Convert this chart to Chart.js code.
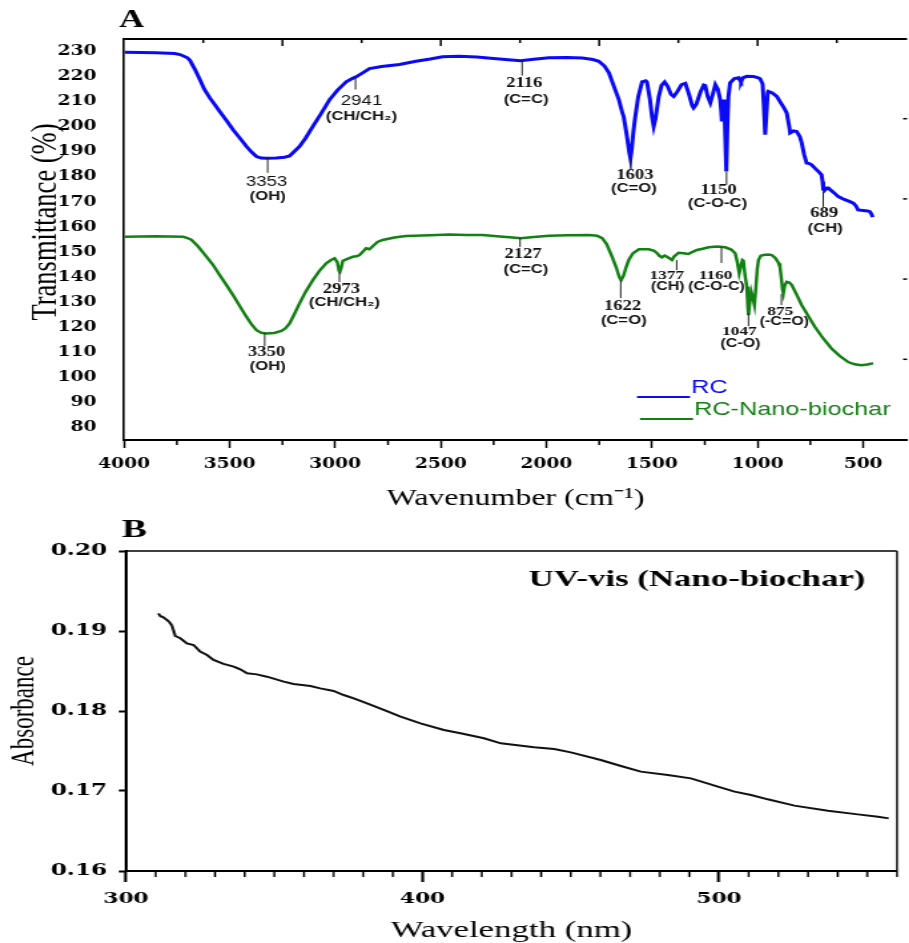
<!DOCTYPE html>
<html>
<head>
<meta charset="utf-8">
<script src="https://cdn.jsdelivr.net/npm/chart.js@4.4.1/dist/chart.umd.min.js"></script>
<style>
  html, body { margin: 0; padding: 0; background: #fff; overflow: hidden; }
  .panel { position: absolute; left: 0; transform-origin: 0 0; }
  /* the original figure is stretched sideways, so each panel is drawn narrow and scaled */
  #panelA { top: 0; width: 683px; height: 530px; transform: scaleX(1.331); }
  #panelB { top: 505px; width: 627px; height: 438px; transform: scaleX(1.45); }
</style>
</head>
<body>
<div id="panelA" class="panel"><canvas id="ftir"></canvas></div>
<div id="panelB" class="panel"><canvas id="uv"></canvas></div>
<script>
// ---- FTIR (panel A) ----
const rcWavenumber = [3998, 3850, 3760, 3735, 3700, 3688, 3665, 3641, 3620, 3594, 3570, 3547, 3515, 3484, 3450, 3420, 3395, 3373, 3350, 3326, 3280, 3240, 3216, 3195, 3169, 3140, 3106, 3065, 3027, 2990, 2948, 2920, 2901, 2870, 2838, 2780, 2696, 2618, 2550, 2492, 2413, 2330, 2250, 2180, 2122, 2060, 1988, 1900, 1830, 1780, 1752, 1725, 1704, 1680, 1657, 1640, 1634, 1620, 1608, 1602, 1596, 1588, 1579, 1565, 1547, 1530, 1524, 1510, 1500, 1492, 1484, 1468, 1455, 1440, 1425, 1410, 1397, 1380, 1360, 1342, 1325, 1310, 1303, 1290, 1270, 1255, 1248, 1236, 1224, 1212, 1200, 1188, 1177, 1172, 1169, 1163, 1158, 1153, 1148, 1143, 1138, 1130, 1110, 1090, 1082, 1078, 1070, 1051, 1020, 1000, 988, 976, 970, 964, 958, 952, 949, 930, 909, 890, 875, 862, 850, 846, 830, 815, 800, 791, 780, 768, 755, 744, 725, 710, 697, 692, 689, 684, 672, 665, 640, 618, 590, 560, 547, 535, 524, 500, 480, 468, 460, 455];
const rcTransmittance = [229.7, 229.5, 229.2, 228.8, 227.5, 226.5, 223, 218.8, 215, 211.5, 208.8, 206.1, 202.5, 198.8, 195.3, 192.1, 189.8, 188.1, 187.5, 187.4, 187.5, 187.8, 188.3, 190, 192.1, 195.5, 200.1, 205.5, 210.8, 214.5, 217.9, 219.2, 219.9, 221.5, 223.2, 224, 224.8, 226.1, 227, 227.9, 228.1, 227.8, 227.2, 226.7, 226.3, 226.9, 227.5, 227.6, 227.4, 226.8, 226.1, 224.2, 221.5, 216, 210.8, 205.5, 204.1, 197, 190, 187.3, 191, 198, 204.1, 212, 217.9, 218.3, 217.9, 211, 204, 200.1, 203, 212.1, 216.5, 217.9, 216, 213, 212.1, 214, 216.8, 217.3, 213, 208.5, 207.5, 209, 214, 216.6, 216.4, 212, 209.5, 213, 216.8, 215, 210.8, 206, 202.1, 208, 210.8, 196, 182.1, 200, 212, 217.5, 219.2, 219.5, 218.3, 217.9, 219.5, 220.1, 220, 219.6, 219.1, 217, 208, 196.8, 205, 213.5, 214.1, 213.5, 212.1, 209.5, 207.5, 205.5, 200, 197.5, 198.3, 198.1, 196, 193.5, 189, 185.5, 185.3, 184.8, 183.2, 182, 180.8, 178, 175, 174.5, 175.5, 175.5, 173.8, 172.1, 171, 170, 169.5, 168.5, 166.8, 166.6, 166.4, 166.1, 165, 163.9];

const nanoWavenumber = [3998, 3850, 3720, 3700, 3680, 3650, 3609, 3580, 3547, 3515, 3484, 3450, 3420, 3395, 3373, 3350, 3326, 3290, 3255, 3235, 3216, 3195, 3169, 3140, 3106, 3075, 3043, 3020, 3003, 2990, 2982, 2978, 2972, 2964, 2945, 2917, 2900, 2885, 2865, 2854, 2846, 2838, 2820, 2800, 2775, 2720, 2665, 2550, 2460, 2380, 2303, 2220, 2160, 2122, 2060, 1988, 1900, 1799, 1760, 1736, 1715, 1689, 1668, 1655, 1646, 1635, 1622, 1610, 1590, 1562, 1515, 1490, 1476, 1465, 1453, 1440, 1429, 1405, 1395, 1374, 1350, 1327, 1310, 1287, 1260, 1232, 1190, 1153, 1125, 1106, 1096, 1087, 1080, 1072, 1067, 1060, 1051, 1046, 1043, 1038, 1030, 1022, 1015, 1008, 1002, 996, 985, 972, 950, 933, 915, 900, 894, 888, 882, 878, 872, 862, 850, 838, 815, 791, 760, 728, 690, 650, 610, 571, 540, 508, 480, 465, 453];
const nanoTransmittance = [156.1, 156.3, 156.1, 155.6, 154.8, 152.3, 148.1, 145, 140.8, 136.8, 132.8, 128.2, 124.1, 121, 118.8, 117.8, 117.5, 117.7, 118.5, 119.6, 121.5, 125, 129.5, 134.2, 138.8, 142.5, 145.5, 146.8, 147.5, 146, 142.5, 142.1, 143.5, 146.5, 147.2, 148.1, 148.3, 148.8, 150.5, 151.5, 151.3, 151.1, 152.5, 154, 154.8, 155.8, 156.4, 156.7, 157, 156.8, 156.8, 156.2, 155.8, 155.5, 156, 156.5, 156.7, 156.8, 156.5, 155.5, 153.2, 148.1, 143.5, 140, 138.8, 140.5, 144, 146.8, 149.5, 151.1, 151.1, 150.5, 149.5, 148.5, 147.9, 148.6, 148.1, 146.8, 148.2, 149.7, 149.5, 149.2, 150, 150.8, 151.3, 151.9, 152.2, 151.9, 151, 149.5, 146, 141.5, 144, 146.8, 146.5, 141, 136.1, 128, 124.8, 129, 134.1, 131.5, 128.8, 136, 143, 146.8, 148.5, 148.8, 149, 148.8, 147.5, 145.5, 144.1, 140, 135, 133.5, 136.5, 138.1, 137.8, 136.8, 133, 128.8, 124.5, 120.1, 115.6, 111.5, 108.5, 106.1, 105.2, 104.8, 105.1, 105.4, 105.7];

const ftirXTicks = [4000, 3500, 3000, 2500, 2000, 1500, 1000, 500];
const ftirXMinor = [3750, 3250, 2750, 2250, 1750, 1250, 750];
const ftirYTicks = [80, 90, 100, 110, 120, 130, 140, 150, 160, 170, 180, 190, 200, 210, 220, 230];
const topMajorTicks = [3250, 2500, 1750, 1000];
const topMinorTicks = [3625, 2875, 2125, 1375, 625];
const rightTicks = [203.2, 171.2, 139.2, 107.2];

// peak labels: where the marker line starts (x, y in data units) and the text
const peakNumbers = ['3353', '2941', '2116', '1603', '1150', '689', '3350', '2973', '2127', '1622', '1377', '1160', '1047', '875'];
const peakGroups = ['(OH)', '(CH/CH\u2082)', '(C=C)', '(C=O)', '(C-O-C)', '(CH)', '(OH)', '(CH/CH\u2082)', '(C=C)', '(C=O)', '(CH)', '(C-O-C)', '(C-O)', '(-C=O)'];
const peakMarkX = [3320, 2904, 2115, 1600, 1147, 689, 3334, 2980, 2125, 1648, 1383, 1171, 1043, 887];
const peakMarkY = [187.6, 220, 226.4, 186.8, 182, 174, 117.6, 142, 155.6, 138.8, 146.8, 152, 125.6, 133.2];
// layout of each label in screen px: [line length, num dx, num dy, group dx, group dy, small]
const peakLayout = [
  [15, -1, 24, 0, 39, 0], [13, 6, 25, 6, 40, 0], [15, 2, 23, 4, 39, 0], [10, 4, 16, 3, 29, 0],
  [13, -8, 19, -9, 32, 0], [15, 1, 22, 2, 37, 0], [13, 2, 19, 3, 33, 0], [10, 2, 17, 5, 30, 0],
  [9, 3, 16, 6, 32, 0], [18, 2, 26, 3, 40, 0], [10, -10, 16, -9, 27, 1], [16, -6, 29, -5, 40, 1],
  [13, -9, 18, -8, 31, 1], [11, -1, 18, 3, 28, 1]
];
const sansNumbers = ['3353', '2941'];

// ---- UV-vis (panel B) ----
const uvWavelength = [310.9, 311.5, 312.6, 314.3, 315.4, 316.6, 318.3, 320.5, 322.8, 325.0, 327.3, 329.5, 332.9, 336.3, 338.5, 340.8, 344.1, 347.5, 353.2, 356.5, 362.2, 365.5, 370.0, 373.4, 376.8, 381.3, 386.9, 392.6, 399.3, 407.2, 412.8, 420.7, 426.4, 437.6, 444.4, 450.0, 460.1, 466.9, 473.6, 482.7, 490.5, 499.6, 505.2, 510.8, 516.4, 525.4, 536.7, 546.8, 553.6, 557.2];
const uvAbsorbance = [0.19221, 0.19188, 0.19171, 0.19125, 0.19075, 0.18938, 0.18909, 0.18846, 0.18825, 0.18742, 0.18700, 0.18638, 0.18588, 0.18554, 0.18521, 0.18471, 0.18458, 0.18429, 0.18367, 0.18338, 0.18313, 0.18283, 0.18250, 0.18200, 0.18158, 0.18096, 0.18013, 0.17929, 0.17846, 0.17763, 0.17721, 0.17659, 0.17596, 0.17546, 0.17525, 0.17483, 0.17388, 0.17313, 0.17242, 0.17200, 0.17158, 0.17054, 0.16992, 0.16950, 0.16896, 0.16817, 0.16754, 0.16708, 0.16679, 0.16658];
const uvXTicks = [300, 400, 500];
const uvYTicks = [0.16, 0.17, 0.18, 0.19, 0.20];

const SA = 1.331, SB = 1.45;
const toPoints = (xs, ys) => xs.map((v, i) => ({ x: v, y: ys[i] }));

function vline(ctx, x, y0, y1) {
  ctx.beginPath(); ctx.moveTo(x, y0); ctx.lineTo(x, y1); ctx.stroke();
}
function hline(ctx, x0, x1, y) {
  ctx.beginPath(); ctx.moveTo(x0, y); ctx.lineTo(x1, y); ctx.stroke();
}

const ftirExtras = {
  id: 'ftirExtras',
  afterDraw(chart) {
    const { ctx, chartArea: a, scales: { x, y } } = chart;
    ctx.save();
    ctx.strokeStyle = '#000';
    ctx.lineWidth = 2;
    hline(ctx, a.left, a.right, a.top);
    ctx.lineWidth = 1.5;
    topMajorTicks.forEach(v => vline(ctx, x.getPixelForValue(v), a.top, a.top + 7));
    topMinorTicks.forEach(v => vline(ctx, x.getPixelForValue(v), a.top, a.top + 4));
    ftirXMinor.forEach(v => vline(ctx, x.getPixelForValue(v), a.bottom, a.bottom + 5));
    rightTicks.forEach(v => hline(ctx, a.right - 3, a.right, y.getPixelForValue(v)));

    // peak markers
    ctx.fillStyle = '#111';
    ctx.textAlign = 'center';
    ctx.textBaseline = 'middle';
    peakNumbers.forEach((num, i) => {
      const [len, ndx, ndy, gdx, gdy, small] = peakLayout[i];
      const px = x.getPixelForValue(peakMarkX[i]);
      const py = y.getPixelForValue(peakMarkY[i]);
      ctx.strokeStyle = '#222';
      ctx.lineWidth = 1;
      vline(ctx, px, py, py + len);
      ctx.font = sansNumbers.includes(num) ? '14px "Liberation Sans"' : `bold ${small ? 13 : 14}px "Liberation Serif"`;
      ctx.fillText(num, px + ndx / SA, py + ndy);
      ctx.font = `bold ${small ? 12 : 12.5}px "Liberation Sans"`;
      ctx.fillText(peakGroups[i], px + gdx / SA, py + gdy);
    });

    // legend inside the plot
    ctx.textAlign = 'left';
    chart.data.datasets.forEach((ds, i) => {
      const ly = [397, 419][i];
      const lx = [637, 640][i] / SA;
      ctx.strokeStyle = ds.borderColor;
      ctx.lineWidth = 2;
      hline(ctx, lx, lx + 53 / SA, ly);
      ctx.fillStyle = ds.borderColor;
      ctx.font = '19px "Liberation Sans"';
      ctx.fillText(ds.label, lx + 54 / SA, ly - 9);
    });

    // y title and panel letter
    ctx.fillStyle = '#000';
    ctx.save();
    ctx.translate(35, 222);
    ctx.rotate(-Math.PI / 2);
    ctx.textAlign = 'center';
    ctx.font = '26.5px "Liberation Serif"';
    ctx.fillText('Transmittance (%)', 0, 0);
    ctx.restore();
    ctx.textAlign = 'left';
    ctx.textBaseline = 'alphabetic';
    ctx.font = 'bold 26px "Liberation Serif"';
    ctx.fillText('A', 89.4, 27);
    ctx.restore();
  }
};

new Chart(document.getElementById('ftir'), {
  type: 'line',
  data: {
    datasets: [
      { label: 'RC', data: toPoints(rcWavenumber, rcTransmittance), borderColor: '#0a0af5', borderWidth: 3 },
      { label: 'RC-Nano-biochar', data: toPoints(nanoWavenumber, nanoTransmittance), borderColor: '#138013', borderWidth: 2.5 }
    ]
  },
  options: {
    responsive: true,
    maintainAspectRatio: false,
    animation: false,
    events: [],
    layout: { padding: { top: 39, right: 0, bottom: 0, left: 0 } },
    elements: { point: { radius: 0 }, line: { tension: 0 } },
    scales: {
      x: {
        type: 'linear', reverse: true, min: 292, max: 4000,
        afterBuildTicks: s => { s.ticks = ftirXTicks.map(v => ({ value: v })); },
        afterFit: s => { s.height = 90; },
        ticks: { color: '#000', padding: 8, maxRotation: 0, font: { family: 'DejaVu Serif', weight: 'bold', size: 14 }, callback: v => String(v) },
        grid: { display: true, drawOnChartArea: false, drawTicks: true, tickLength: 8, tickWidth: 1.5, tickColor: '#000' },
        border: { display: true, color: '#000', width: 2 },
        title: { display: true, text: 'Wavenumber (cm\u207B\u00B9)', color: '#000', font: { family: 'Liberation Serif', size: 24, lineHeight: 1 }, padding: { top: 0, bottom: 19 } }
      },
      y: {
        type: 'linear', min: 75, max: 235,
        afterBuildTicks: s => { s.ticks = ftirYTicks.map(v => ({ value: v })); },
        afterFit: s => { s.width = 93.2; },
        ticks: { color: '#000', padding: 12.7, font: { family: 'DejaVu Serif', weight: 'bold', size: 14 }, callback: v => String(v) },
        grid: { display: false },
        border: { display: true, color: '#000', width: 1.6 }
      }
    },
    plugins: { legend: { display: false }, tooltip: { enabled: false } }
  },
  plugins: [ftirExtras]
});

const uvExtras = {
  id: 'uvExtras',
  afterDraw(chart) {
    const { ctx, chartArea: a, scales: { x } } = chart;
    ctx.save();
    ctx.strokeStyle = '#000';
    ctx.lineWidth = 1.5;
    hline(ctx, a.left, a.right, a.top);
    ctx.lineWidth = 1.4;
    vline(ctx, a.right, a.top, a.bottom);
    for (let v = 310; v <= 560; v += 10) {
      if (uvXTicks.includes(v)) continue;
      vline(ctx, x.getPixelForValue(v), a.bottom, a.bottom + 6);
    }
    ctx.fillStyle = '#000';
    ctx.textAlign = 'center';
    ctx.textBaseline = 'alphabetic';
    ctx.font = 'bold 24px "Liberation Serif"';
    ctx.fillText('UV-vis (Nano-biochar)', 480.7, 81);
    ctx.textAlign = 'left';
    ctx.font = 'bold 26px "Liberation Serif"';
    ctx.fillText('B', 84.1, 32);
    ctx.restore();
  }
};

new Chart(document.getElementById('uv'), {
  type: 'line',
  data: {
    datasets: [
      { label: 'UV-vis (Nano-biochar)', data: toPoints(uvWavelength, uvAbsorbance), borderColor: '#111', borderWidth: 2 }
    ]
  },
  options: {
    responsive: true,
    maintainAspectRatio: false,
    animation: false,
    events: [],
    layout: { padding: { top: 46, right: 8.4, bottom: 0, left: 0 } },
    elements: { point: { radius: 0 }, line: { tension: 0 } },
    scales: {
      x: {
        type: 'linear', min: 300, max: 560,
        afterBuildTicks: s => { s.ticks = uvXTicks.map(v => ({ value: v })); },
        afterFit: s => { s.height = 72; },
        ticks: { color: '#000', padding: 8, maxRotation: 0, font: { family: 'DejaVu Serif', weight: 'bold', size: 15 }, callback: v => String(v) },
        grid: { display: true, drawOnChartArea: false, drawTicks: true, tickLength: 11, tickWidth: 2, tickColor: '#000' },
        border: { display: true, color: '#000', width: 2 },
        title: { display: true, text: 'Wavelength (nm)', color: '#000', font: { family: 'Liberation Serif', size: 24, lineHeight: 1 }, padding: { top: 0, bottom: 0 } }
      },
      y: {
        type: 'linear', min: 0.16, max: 0.20,
        afterBuildTicks: s => { s.ticks = uvYTicks.map(v => ({ value: v })); },
        afterFit: s => { s.width = 86.9; },
        ticks: { color: '#000', padding: 8, font: { family: 'DejaVu Serif', weight: 'bold', size: 16 }, callback: v => v.toFixed(2) },
        grid: { display: true, drawOnChartArea: false, drawTicks: true, tickLength: 5, tickWidth: 2, tickColor: '#000' },
        border: { display: true, color: '#000', width: 2 },
        title: { display: true, text: 'Absorbance', color: '#000', font: { family: 'Liberation Serif', size: 23, lineHeight: 1 }, padding: { top: 5, bottom: 0 } }
      }
    },
    plugins: { legend: { display: false }, tooltip: { enabled: false } }
  },
  plugins: [uvExtras]
});
</script>
</body>
</html>
